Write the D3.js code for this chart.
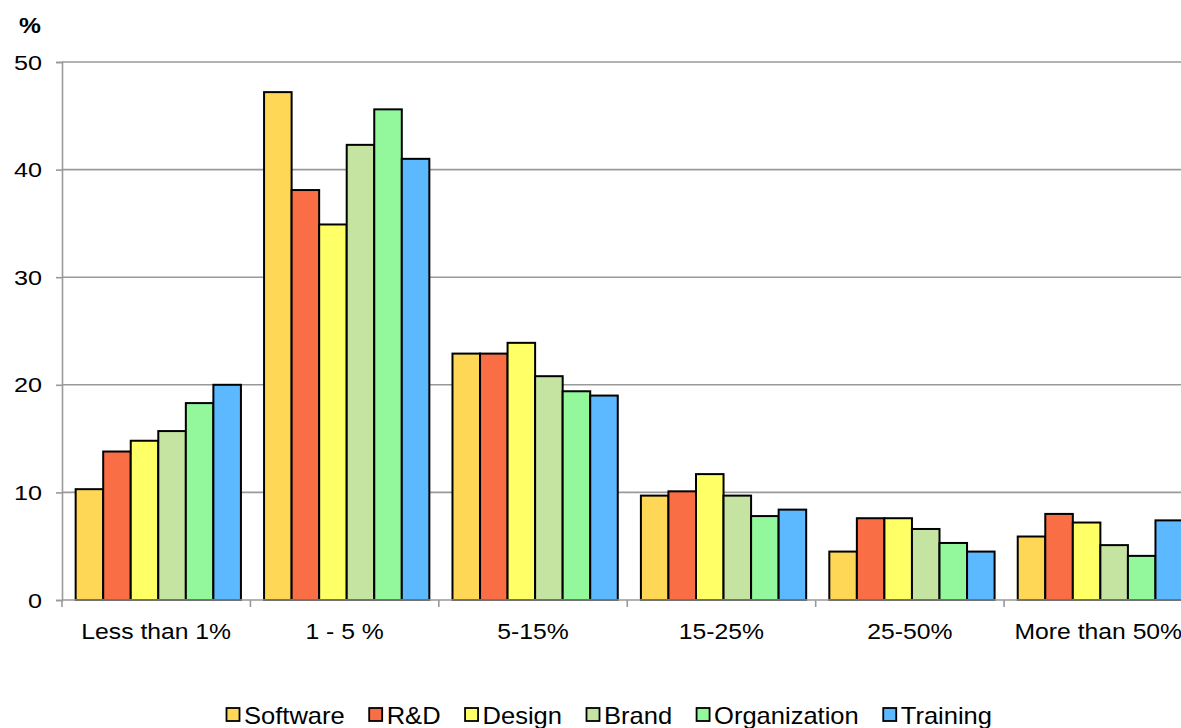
<!DOCTYPE html>
<html>
<head>
<meta charset="utf-8">
<script src="https://cdn.jsdelivr.net/npm/d3@7/dist/d3.min.js"></script>
<style>
  html, body { margin: 0; padding: 0; background: #fff; }
  svg { display: block; font-family: "Liberation Sans", Arial, sans-serif; }
</style>
</head>
<body>
<svg id="chart" width="1181" height="728"></svg>
<script>
// Share of firms by investment band, per intangible asset type (%)
const categories = ["Less than 1%", "1 - 5 %", "5-15%", "15-25%", "25-50%", "More than 50%"];
const seriesNames = ["Software", "R&D", "Design", "Brand", "Organization", "Training"];
const seriesColors = ["#FFD757", "#F96E45", "#FFFF66", "#C6E4A1", "#93F89B", "#5CB8FF"];

const software     = [10.3, 47.2, 22.9,  9.7, 4.5, 5.9];
const rnd          = [13.8, 38.1, 22.9, 10.1, 7.6, 8.0];
const design       = [14.8, 34.9, 23.9, 11.7, 7.6, 7.2];
const brand        = [15.7, 42.3, 20.8,  9.7, 6.6, 5.1];
const organization = [18.3, 45.6, 19.4,  7.8, 5.3, 4.1];
const training     = [20.0, 41.0, 19.0,  8.4, 4.5, 7.4];

const yTicks = [0, 10, 20, 30, 40, 50];

const seriesValues = [software, rnd, design, brand, organization, training];

const svg = d3.select("#chart");
const plotLeft = 62, plotRight = 1192.5, plotTop = 62, plotBottom = 600;
const stretch = 1.15; // horizontal widening of the text glyphs

const x = d3.scaleBand().domain(categories).range([plotLeft, plotRight]).paddingInner(0).paddingOuter(0);
const xInner = d3.scaleBand().domain(seriesNames).range([0, x.bandwidth()])
  .paddingInner(0).paddingOuter(0.42).align(0.59);
const y = d3.scaleLinear().domain([0, 50]).range([plotBottom, plotTop]);

// horizontal gridlines
svg.append("g")
  .selectAll("line")
  .data(yTicks.filter(d => d > 0))
  .join("line")
  .attr("x1", plotLeft).attr("x2", 1181)
  .attr("y1", d => y(d)).attr("y2", d => y(d))
  .attr("stroke", "#999").attr("stroke-width", 1.6);

// bars
const groups = svg.append("g")
  .selectAll("g")
  .data(categories)
  .join("g")
  .attr("transform", d => `translate(${x(d)},0)`);

groups.selectAll("rect")
  .data((c, i) => seriesNames.map((s, j) => ({ s, j, v: seriesValues[j][i] })))
  .join("rect")
  .attr("x", d => xInner(d.s))
  .attr("y", d => y(d.v))
  .attr("width", xInner.bandwidth())
  .attr("height", d => plotBottom - y(d.v))
  .attr("fill", d => seriesColors[d.j])
  .attr("stroke", "#000")
  .attr("stroke-width", 2);

// y axis (line and ticks)
const yAxis = d3.axisLeft(y).tickValues(yTicks).tickSize(6).tickFormat("");
const gy = svg.append("g").attr("transform", `translate(${plotLeft},0)`).call(yAxis);
gy.select(".domain").attr("stroke", "#999").attr("stroke-width", 1.6);
gy.selectAll(".tick line").attr("stroke", "#999").attr("stroke-width", 1.6);

// y tick labels
svg.append("g")
  .selectAll("text")
  .data(yTicks)
  .join("text")
  .attr("transform", d => `translate(42,${y(d) + 7.5}) scale(${stretch + 0.05},1)`)
  .attr("text-anchor", "end")
  .attr("font-size", 21)
  .attr("fill", "#000")
  .text(d => d);

// category labels
const xAxis = d3.axisBottom(x).tickSize(0).tickPadding(0);
const gx = svg.append("g").attr("transform", `translate(0,${plotBottom})`).call(xAxis);
gx.select(".domain").remove();
gx.selectAll(".tick text")
  .attr("y", 0).attr("dy", null)
  .attr("transform", `translate(0,39) scale(${stretch},1)`)
  .attr("font-size", 21.5).attr("fill", "#000")
  .attr("font-family", "Liberation Sans, Arial, sans-serif");

// baseline and category boundary ticks
svg.append("line")
  .attr("x1", plotLeft).attr("x2", 1181).attr("y1", plotBottom).attr("y2", plotBottom)
  .attr("stroke", "#999").attr("stroke-width", 1.6);
svg.append("g")
  .selectAll("line")
  .data(categories.map(c => x(c)).concat([plotRight]))
  .join("line")
  .attr("x1", d => d).attr("x2", d => d)
  .attr("y1", plotBottom).attr("y2", plotBottom + 7)
  .attr("stroke", "#999").attr("stroke-width", 1.6);

// unit label
svg.append("text")
  .attr("transform", `translate(30,33) scale(1.12,1)`)
  .attr("text-anchor", "middle")
  .attr("font-size", 22).attr("font-weight", "bold")
  .text("%");

// legend
const legend = svg.append("g");
let lx = 226;
seriesNames.forEach((name, i) => {
  const g = legend.append("g").attr("transform", `translate(${lx},0)`);
  g.append("rect")
    .attr("x", 0.5).attr("y", 708)
    .attr("width", 13).attr("height", 13)
    .attr("fill", seriesColors[i])
    .attr("stroke", "#000").attr("stroke-width", 1.8);
  const t = g.append("text")
    .attr("transform", `translate(18,724) scale(1.11,1)`)
    .attr("font-size", 23)
    .text(name);
  lx += 18 + t.node().getComputedTextLength() * 1.11 + 24;
});
</script>
</body>
</html>
